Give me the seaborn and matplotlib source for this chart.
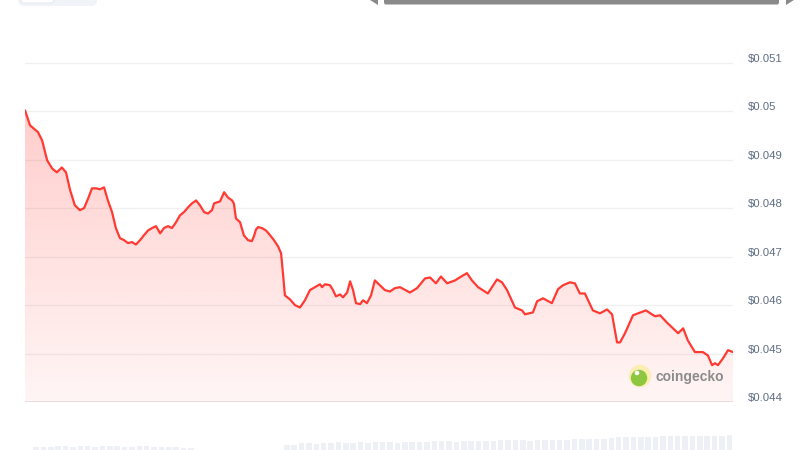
import numpy as np
import pandas as pd
import matplotlib
matplotlib.use("Agg")
import matplotlib.pyplot as plt
import matplotlib.transforms as mtransforms
from matplotlib.patches import FancyBboxPatch, Circle, Polygon
import seaborn as sns

# ---- data (hours since start, price in USD) ----
hours = [0.0, 0.17, 0.44, 0.58, 0.75, 0.92, 1.08, 1.25, 1.39, 1.53, 1.69, 1.86, 2.00, 2.14, 2.27,
         2.41, 2.54, 2.68, 2.81, 2.95, 3.08, 3.22, 3.36, 3.49, 3.63, 3.76, 3.90, 4.03, 4.17, 4.31,
         4.44, 4.58, 4.71, 4.85, 4.98, 5.12, 5.25, 5.39, 5.53, 5.66, 5.80, 5.93, 6.07, 6.20, 6.34,
         6.41, 6.61, 6.75, 6.88, 7.02, 7.08, 7.15, 7.29, 7.42, 7.56, 7.69, 7.76, 7.83, 7.90, 8.03,
         8.17, 8.31, 8.44, 8.58, 8.68, 8.75, 8.81, 8.98, 9.15, 9.32, 9.49, 9.66, 9.83, 10.00, 10.07,
         10.17, 10.34, 10.44, 10.54, 10.68, 10.78, 10.92, 11.02, 11.12, 11.22, 11.36, 11.46, 11.59,
         11.73, 11.86, 12.03, 12.20, 12.37, 12.54, 12.71, 13.05, 13.29, 13.56, 13.73, 13.93, 14.10,
         14.31, 14.58, 14.68, 14.98, 15.15, 15.36, 15.69, 16.00, 16.17, 16.34, 16.61, 16.85, 16.95,
         17.22, 17.36, 17.56, 17.86, 18.07, 18.24, 18.47, 18.64, 18.81, 18.98, 19.25, 19.49, 19.73,
         19.90, 20.07, 20.17, 20.34, 20.61, 20.78, 21.05, 21.25, 21.36, 21.53, 21.76, 21.97, 22.14,
         22.31, 22.47, 22.71, 22.98, 23.15, 23.29, 23.39, 23.49, 23.66, 23.83, 24.00]
price = [0.05002, 0.04971, 0.04957, 0.04940, 0.04899, 0.04882, 0.04874, 0.04884, 0.04874, 0.04837,
         0.04806, 0.04796, 0.04800, 0.04820, 0.04841, 0.04841, 0.04839, 0.04843, 0.04816, 0.04792,
         0.04759, 0.04738, 0.04734, 0.04728, 0.04730, 0.04725, 0.04734, 0.04744, 0.04754, 0.04759,
         0.04763, 0.04748, 0.04759, 0.04763, 0.04759, 0.04771, 0.04785, 0.04792, 0.04802, 0.04810,
         0.04816, 0.04806, 0.04792, 0.04789, 0.04796, 0.04810, 0.04814, 0.04833, 0.04822, 0.04816,
         0.04810, 0.04779, 0.04771, 0.04744, 0.04734, 0.04732, 0.04742, 0.04756, 0.04761, 0.04759,
         0.04754, 0.04744, 0.04734, 0.04721, 0.04707, 0.04662, 0.04620, 0.04612, 0.04600, 0.04595,
         0.04610, 0.04631, 0.04637, 0.04643, 0.04637, 0.04643, 0.04641, 0.04631, 0.04618, 0.04622,
         0.04616, 0.04626, 0.04649, 0.04631, 0.04604, 0.04602, 0.04610, 0.04604, 0.04620, 0.04651,
         0.04641, 0.04631, 0.04628, 0.04635, 0.04637, 0.04626, 0.04635, 0.04655, 0.04657, 0.04645,
         0.04659, 0.04645, 0.04651, 0.04655, 0.04666, 0.04651, 0.04637, 0.04624, 0.04653, 0.04647,
         0.04631, 0.04595, 0.04589, 0.04581, 0.04585, 0.04608, 0.04614, 0.04604, 0.04633, 0.04641,
         0.04647, 0.04645, 0.04624, 0.04624, 0.04589, 0.04583, 0.04591, 0.04581, 0.04523, 0.04523,
         0.04542, 0.04579, 0.04583, 0.04589, 0.04581, 0.04577, 0.04579, 0.04564, 0.04552, 0.04542,
         0.04552, 0.04527, 0.04503, 0.04503, 0.04496, 0.04476, 0.04480, 0.04476, 0.04490, 0.04507,
         0.04503]

# volume (relative units), one bar per quarter hour
volume = [0, 3, 3, 3, 4, 4, 3, 4, 4, 3, 4, 4, 4, 3, 3, 4, 4, 3, 3, 3, 3, 2, 2,
          0, 0, 0, 0, 0, 0, 0, 0, 0, 0, 0, 0,
          5, 5, 7, 7, 6, 7, 7, 8, 7, 7, 8, 7, 8, 8, 8, 7, 8, 8, 8, 8, 9, 9, 9, 8, 9,
          9, 9, 9, 9, 10, 10, 10, 10, 9, 10, 10, 10, 10, 10, 11, 11, 11, 11, 11, 12,
          13, 13, 13, 13, 13, 13, 14, 14, 14, 14, 14, 14, 14, 14, 14, 15]
vol_hours = [0.125 + 0.25 * i for i in range(len(volume))]

yticks = [0.044, 0.045, 0.046, 0.047, 0.048, 0.049, 0.050, 0.051]
ytick_labels = ["$0.044", "$0.045", "$0.046", "$0.047", "$0.048", "$0.049", "$0.05", "$0.051"]

df = pd.DataFrame({"hours": hours, "price": price})
vdf = pd.DataFrame({"hours": vol_hours, "volume": volume})

sns.set_theme(style="white")
plt.rcParams["font.family"] = ["Liberation Sans", "DejaVu Sans"]

LINE = "#ff3a33"
fig = plt.figure(figsize=(8, 4.5), dpi=100)
fig.patch.set_facecolor("white")

# volume axes at the bottom
vax = fig.add_axes([25 / 800, 0, 708 / 800, 20 / 450])
vax.bar(vdf["hours"], vdf["volume"], width=0.19, color="#edf0f4", linewidth=0)
vax.set_xlim(0, 24)
vax.set_ylim(0, 20)
vax.axis("off")

# main price axes
ymin, ymax = 0.044, 0.051513
ax = fig.add_axes([25 / 800, 48 / 450, 708 / 800, 364 / 450])
ax.set_facecolor("none")
ax.set_xlim(0, 24)
ax.set_ylim(ymin, ymax)

# gradient fill under the line
grad = np.linspace(0.05, 0.30, 256).reshape(-1, 1)
rgba = np.zeros((256, 1, 4))
rgba[..., 0] = 1.0
rgba[..., 1] = 58 / 255
rgba[..., 2] = 51 / 255
rgba[..., 3] = grad
img = ax.imshow(rgba, aspect="auto", origin="lower",
                extent=[0, 24, ymin, ymax], zorder=1, interpolation="bilinear")
poly_pts = list(zip(hours, price)) + [(hours[-1], ymin), (hours[0], ymin)]
poly = Polygon(poly_pts, closed=True, facecolor="none", edgecolor="none",
               transform=ax.transData)
ax.add_patch(poly)
img.set_clip_path(poly)

# grid lines
for yv in yticks:
    ax.axhline(yv, color="#e6e6e6" if yv == ymin else "#f0f0f0",
               lw=1.4 if yv == ymin else 1.0, zorder=0.5)

sns.lineplot(data=df, x="hours", y="price", ax=ax, color=LINE, lw=1.6, zorder=3)

ax.set_xlabel("")
ax.set_ylabel("")
ax.set_xticks([])
ax.yaxis.tick_right()
ax.set_yticks(yticks)
ax.set_yticklabels(ytick_labels)
ax.tick_params(axis="y", length=0, pad=11, labelsize=8.2, labelcolor="#5f6d82")
offset = mtransforms.ScaledTranslation(0, 0.05, fig.dpi_scale_trans)
for lab in ax.get_yticklabels():
    lab.set_transform(lab.get_transform() + offset)
for s in ax.spines.values():
    s.set_visible(False)
ax.grid(False)

# overlay for watermark and UI chrome (pixel coordinates)
wm_ax = fig.add_axes([0, 0, 1, 1], facecolor="none")
wm_ax.set_xlim(0, 800)
wm_ax.set_ylim(450, 0)
wm_ax.axis("off")
wm_ax.add_patch(Circle((640, 376), 10.5, color="#fbeeb0", zorder=5))
wm_ax.add_patch(Circle((639, 378), 7.5, color="#8dc63f", zorder=6))
wm_ax.add_patch(Circle((637, 373), 1.6, color="#ffffff", zorder=7))
wm_ax.text(656, 377, "coingecko", fontsize=10, fontweight="bold", color="#8c8c8c",
           va="center", ha="left", zorder=6)

wm_ax.add_patch(FancyBboxPatch((18, -10), 79, 16, boxstyle="round,pad=0,rounding_size=6",
                               facecolor="#f0f3f7", edgecolor="none", zorder=5))
wm_ax.add_patch(FancyBboxPatch((21, -10), 33, 13, boxstyle="round,pad=0,rounding_size=4",
                               facecolor="white", edgecolor="#e4e7eb", lw=0.6, zorder=6))
wm_ax.add_patch(FancyBboxPatch((384, -10), 395, 14.5, boxstyle="round,pad=0,rounding_size=2",
                               facecolor="#8a8a8a", edgecolor="none", zorder=5))
wm_ax.add_patch(Polygon([(370, 0), (378, 0), (378, 5)], closed=True,
                        facecolor="#8a8a8a", edgecolor="none", zorder=5))
wm_ax.add_patch(Polygon([(786, 0), (794, 0), (786, 5)], closed=True,
                        facecolor="#8a8a8a", edgecolor="none", zorder=5))

fig.savefig("out.png", dpi=100)
